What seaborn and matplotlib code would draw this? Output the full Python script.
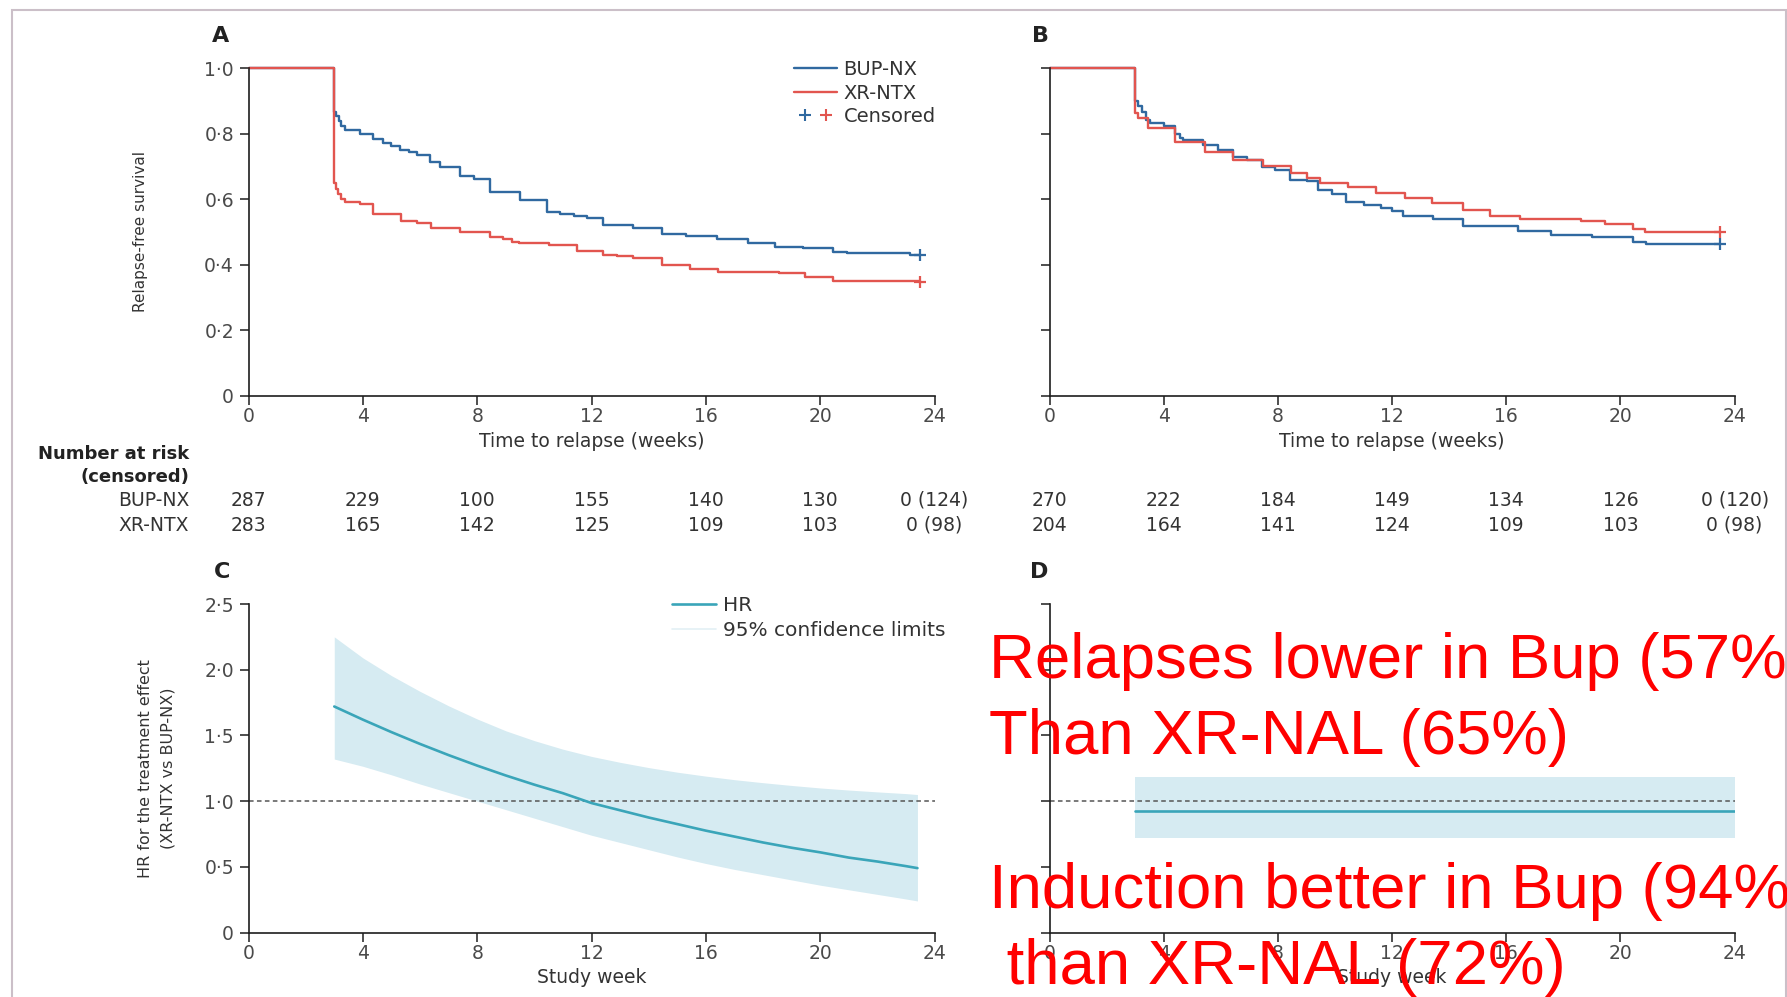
import matplotlib
matplotlib.use("Agg")
import matplotlib.pyplot as plt
import seaborn as sns
import pandas as pd
from matplotlib.lines import Line2D
from matplotlib.legend_handler import HandlerTuple
from matplotlib.patches import Rectangle
from matplotlib import transforms

# ---------------- data ----------------
week_ticks = [0, 4, 8, 12, 16, 20, 24]
km_yticks = [0, 0.2, 0.4, 0.6, 0.8, 1.0]
km_ytick_labels = ["0", "0·2", "0·4", "0·6", "0·8", "1·0"]
hr_yticks = [0, 0.5, 1.0, 1.5, 2.0, 2.5]
hr_ytick_labels = ["0", "0·5", "1·0", "1·5", "2·0", "2·5"]

arms = ["BUP-NX", "XR-NTX"]

# Panel A: Kaplan-Meier relapse-free survival (step points)
a_bup_t = [0, 3.0, 3.07, 3.15, 3.25, 3.37, 3.9, 4.37, 4.72, 5.0, 5.3, 5.6, 5.9, 6.35, 6.7,
           7.4, 7.9, 8.45, 9.5, 10.43, 10.9, 11.4, 11.83, 12.41, 13.46, 14.45, 15.3, 16.38,
           17.48, 18.42, 19.4, 20.46, 20.92, 23.13, 23.5]
a_bup_s = [1.0, 0.868, 0.855, 0.84, 0.825, 0.812, 0.80, 0.785, 0.771, 0.762, 0.752, 0.745,
           0.735, 0.715, 0.698, 0.672, 0.662, 0.623, 0.598, 0.562, 0.555, 0.548, 0.543, 0.521,
           0.511, 0.494, 0.489, 0.478, 0.465, 0.455, 0.452, 0.44, 0.435, 0.43, 0.43]
a_xr_t = [0, 3.0, 3.05, 3.14, 3.25, 3.37, 3.9, 4.37, 5.35, 5.9, 6.4, 7.4, 8.45, 8.9, 9.2,
          9.45, 10.5, 11.49, 12.4, 12.9, 13.46, 14.45, 15.44, 16.44, 18.54, 19.47, 20.46, 23.5]
a_xr_s = [1.0, 0.649, 0.63, 0.615, 0.60, 0.593, 0.585, 0.555, 0.533, 0.527, 0.511, 0.501,
          0.486, 0.478, 0.47, 0.465, 0.46, 0.442, 0.43, 0.426, 0.419, 0.399, 0.386, 0.379,
          0.374, 0.363, 0.351, 0.348]

# Panel B: Kaplan-Meier relapse-free survival (step points)
b_bup_t = [0, 3.0, 3.1, 3.22, 3.39, 3.51, 4.0, 4.39, 4.56, 4.68, 5.38, 5.9, 6.43, 6.9, 7.43,
           7.9, 8.42, 9.0, 9.41, 9.9, 10.4, 11.0, 11.6, 12.0, 12.39, 13.44, 14.49, 16.41,
           17.58, 19.0, 20.44, 20.9, 23.48]
b_bup_s = [1.0, 0.901, 0.885, 0.868, 0.842, 0.832, 0.825, 0.80, 0.786, 0.78, 0.765, 0.752,
           0.73, 0.72, 0.698, 0.69, 0.659, 0.655, 0.628, 0.615, 0.592, 0.583, 0.574, 0.565,
           0.549, 0.539, 0.519, 0.504, 0.491, 0.484, 0.470, 0.463, 0.463]
b_xr_t = [0, 3.0, 3.11, 3.46, 4.39, 5.44, 6.43, 7.48, 8.47, 9.0, 9.46, 10.46, 11.45, 12.44,
          13.38, 14.49, 15.42, 16.47, 18.63, 19.45, 20.44, 20.85, 23.48]
b_xr_s = [1.0, 0.863, 0.848, 0.817, 0.775, 0.745, 0.72, 0.702, 0.679, 0.665, 0.649, 0.638,
          0.62, 0.605, 0.59, 0.567, 0.549, 0.539, 0.533, 0.523, 0.51, 0.501, 0.501]

# Number at risk (censored)
risk_a_bup = ["287", "229", "100", "155", "140", "130", "0 (124)"]
risk_a_xr = ["283", "165", "142", "125", "109", "103", "0 (98)"]
risk_b_bup = ["270", "222", "184", "149", "134", "126", "0 (120)"]
risk_b_xr = ["204", "164", "141", "124", "109", "103", "0 (98)"]

# Panel C: time-varying hazard ratio with 95% limits
hr_weeks = [3, 4, 5, 6, 7, 8, 9, 10, 11, 12, 13, 14, 15, 16, 17, 18, 19, 20, 21, 22, 23, 23.4]
hr_est = [1.72, 1.62, 1.525, 1.435, 1.35, 1.27, 1.195, 1.125, 1.06, 0.985, 0.93, 0.875,
          0.825, 0.775, 0.73, 0.685, 0.645, 0.61, 0.57, 0.54, 0.505, 0.49]
hr_upper = [2.25, 2.09, 1.955, 1.835, 1.725, 1.625, 1.535, 1.46, 1.395, 1.34, 1.295, 1.255,
            1.22, 1.19, 1.163, 1.14, 1.119, 1.10, 1.084, 1.07, 1.057, 1.05]
hr_lower = [1.32, 1.265, 1.2, 1.13, 1.065, 1.0, 0.935, 0.87, 0.805, 0.74, 0.685, 0.63, 0.575,
            0.525, 0.48, 0.44, 0.40, 0.36, 0.325, 0.29, 0.255, 0.24]

# Panel D: constant hazard ratio with 95% limits
d_weeks = [3.0, 24.0]
d_est = [0.925, 0.925]
d_upper = [1.185, 1.185]
d_lower = [0.72, 0.72]

notes = ["Relapses lower in Bup (57%", "Than XR-NAL (65%)",
         "Induction better in Bup (94%", " than XR-NAL (72%)"]

# ---------------- style ----------------
BLUE = "#3069a0"
RED = "#e2554f"
TEAL = "#3aa5b9"
BAND = "#d6ebf2"
SPINE = "#1e1e1e"
TICKLAB = "#4a4a4a"

sns.set_theme(style="ticks")
plt.rcParams["font.family"] = ["DejaVu Sans"]

W, H = 1787, 997
fig = plt.figure(figsize=(W / 100, H / 100), dpi=100)
fig.patch.set_facecolor("white")


def axes_px(x0, x1, ytop, ybot):
    return fig.add_axes([x0 / W, 1 - ybot / H, (x1 - x0) / W, (ybot - ytop) / H])


axA = axes_px(248.5, 934.6, 68.4, 395.5)
axB = axes_px(1049.7, 1734.6, 68.4, 395.5)
axC = axes_px(248.5, 934.6, 604.0, 932.5)
axD = axes_px(1049.7, 1734.6, 604.0, 932.5)


def style_axis(ax, yticks, ylabels, show_ylabels):
    ax.set_facecolor("white")
    ax.set_xlim(0, 24)
    ax.set_ylim(yticks[0], yticks[-1])
    ax.set_xticks(week_ticks)
    ax.set_xticklabels([str(w) for w in week_ticks])
    ax.set_yticks(yticks)
    ax.set_yticklabels(ylabels if show_ylabels else [])
    for s in ["top", "right"]:
        ax.spines[s].set_visible(False)
    for s in ["left", "bottom"]:
        ax.spines[s].set_linewidth(1.2)
        ax.spines[s].set_color(SPINE)
    ax.tick_params(axis="both", length=6.5, width=1.1, color=SPINE,
                   labelsize=13.5, labelcolor=TICKLAB)
    ax.tick_params(axis="x", pad=2)
    ax.tick_params(axis="y", pad=4)
    ax.grid(False)


def km_frame(t_bup, s_bup, t_xr, s_xr):
    return pd.DataFrame({
        "week": t_bup + t_xr,
        "survival": s_bup + s_xr,
        "arm": [arms[0]] * len(t_bup) + [arms[1]] * len(t_xr),
    })


for ax, (tb, sb, tx, sx) in [(axA, (a_bup_t, a_bup_s, a_xr_t, a_xr_s)),
                             (axB, (b_bup_t, b_bup_s, b_xr_t, b_xr_s))]:
    df = km_frame(tb, sb, tx, sx)
    sns.lineplot(data=df, x="week", y="survival", hue="arm", hue_order=arms,
                 palette={arms[0]: BLUE, arms[1]: RED}, estimator=None,
                 drawstyle="steps-post", linewidth=1.7, legend=False, ax=ax,
                 clip_on=False)
    # censoring marks at the end of follow-up
    ax.plot(tb[-1], sb[-1], marker="+", ms=9, mew=1.6, color=BLUE, ls="none", clip_on=False)
    ax.plot(tx[-1], sx[-1], marker="+", ms=9, mew=1.6, color=RED, ls="none", clip_on=False)
    style_axis(ax, km_yticks, km_ytick_labels, ax is axA)
    ax.set_xlabel("Time to relapse (weeks)", fontsize=13.5, color="#333333", va="center")
    ax.xaxis.set_label_coords(0.5, -0.142)
    ax.set_ylabel("")

axA.set_ylabel("Relapse-free survival", fontsize=11, color="#333333", va="center")
axA.yaxis.set_label_coords(-0.158, 0.5)

# legend for panel A
km_handles = [
    Line2D([], [], color=BLUE, lw=1.7),
    Line2D([], [], color=RED, lw=1.7),
    (Line2D([], [], ls="none", marker="+", color=BLUE, ms=8, mew=1.5),
     Line2D([], [], ls="none", marker="+", color=RED, ms=8, mew=1.5)),
]
legA = axA.legend(km_handles, arms + ["Censored"],
                  handler_map={tuple: HandlerTuple(ndivide=None, pad=0)},
                  loc="upper left", bbox_to_anchor=(0.795, 1.026), frameon=False,
                  fontsize=14, handlelength=2.2, handletextpad=0.35, labelspacing=0.24,
                  borderaxespad=0, borderpad=0)
for txt in legA.get_texts():
    txt.set_color("#333333")

# Panel C: hazard ratio curve with confidence band
axC.fill_between(hr_weeks, hr_lower, hr_upper, color=BAND, lw=0, zorder=1)
sns.lineplot(x=hr_weeks, y=hr_est, color=TEAL, linewidth=1.9, ax=axC, zorder=3)
axC.axhline(1.0, color="#555555", lw=1.1, ls=(0, (3, 2.2)), zorder=2)
style_axis(axC, hr_yticks, hr_ytick_labels, True)
axC.set_xlabel("Study week", fontsize=13.5, color="#333333", va="center")
axC.xaxis.set_label_coords(0.5, -0.1385)
axC.set_ylabel("HR for the treatment effect\n(XR-NTX vs BUP-NX)", fontsize=11.5,
               color="#333333", va="center", linespacing=1.6)
axC.yaxis.set_label_coords(-0.1337, 0.5)

hr_handles = [Line2D([], [], color=TEAL, lw=1.9), Line2D([], [], color="#e3f0f5", lw=1.2)]
legC = axC.legend(hr_handles, ["HR", "95% confidence limits"], loc="upper left",
                  bbox_to_anchor=(0.617, 1.024), frameon=False, fontsize=14.5,
                  handlelength=2.2, handletextpad=0.35, labelspacing=0.28,
                  borderaxespad=0, borderpad=0)
for txt in legC.get_texts():
    txt.set_color("#333333")

# Panel D: constant hazard ratio
axD.fill_between(d_weeks, d_lower, d_upper, color=BAND, lw=0, zorder=1)
sns.lineplot(x=d_weeks, y=d_est, color=TEAL, linewidth=1.9, ax=axD, zorder=3)
axD.axhline(1.0, color="#555555", lw=1.1, ls=(0, (3, 2.2)), zorder=2)
style_axis(axD, hr_yticks, hr_ytick_labels, False)
axD.set_xlabel("Study week", fontsize=13.5, color="#333333", va="center")
axD.xaxis.set_label_coords(0.5, -0.1385)
axD.set_ylabel("")

# Number-at-risk table below panels A and B
def fig_y(px):
    return 1 - px / H


fig.text(189 / W, fig_y(454), "Number at risk", ha="right", va="center",
         fontsize=13, fontweight="bold", color="#222222")
fig.text(189 / W, fig_y(477.5), "(censored)", ha="right", va="center",
         fontsize=13, fontweight="bold", color="#222222")
fig.text(189 / W, fig_y(500), arms[0], ha="right", va="center", fontsize=13.5, color="#333333")
fig.text(189 / W, fig_y(525), arms[1], ha="right", va="center", fontsize=13.5, color="#333333")

for ax, rows in [(axA, (risk_a_bup, risk_a_xr)), (axB, (risk_b_bup, risk_b_xr))]:
    trans = transforms.blended_transform_factory(ax.transData, fig.transFigure)
    for row, ypx in zip(rows, (500, 525)):
        for wk, val in zip(week_ticks, row):
            ax.text(wk, fig_y(ypx), val, transform=trans, ha="center", va="center",
                    fontsize=13.5, color="#333333", clip_on=False)

# Panel letters
for letter, xpx, ypx in [("A", 221, 36), ("B", 1040.5, 36), ("C", 222, 572), ("D", 1039, 572)]:
    fig.text(xpx / W, fig_y(ypx), letter, ha="center", va="center", fontsize=16,
             fontweight="bold", color="#222222")

# Summary notes in red
for txt, xpx, ypx in zip(notes, [989, 989, 989, 989], [678, 754, 908, 984]):
    fig.text(xpx / W, fig_y(ypx), txt, ha="left", va="baseline", fontsize=45.7,
             color="#ff0000", family=["Liberation Sans", "DejaVu Sans"], zorder=10)

# Thin frame around the figure
fig.patches.append(Rectangle((12 / W, -0.02), (1786 - 12) / W, fig_y(10) + 0.02,
                             transform=fig.transFigure, fill=False,
                             edgecolor="#cbbfc8", lw=1.5, zorder=0))

fig.savefig("out.png", dpi=100, facecolor="white")
